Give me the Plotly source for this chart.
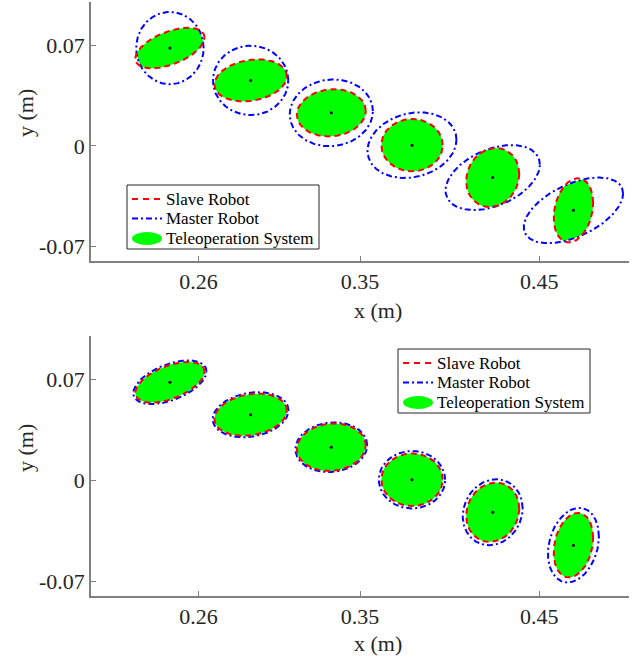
import numpy as np
import plotly.graph_objects as go

# ---------------- data ----------------
# ellipse centres (m)
cx = [0.244, 0.289, 0.334, 0.379, 0.424, 0.469]
cy = [0.068, 0.0455, 0.023, 0.0005, -0.022, -0.0448]

# slave robot ellipses: half-extent in x, half-extent in y, correlation (tilt)
slave_sx = [0.0193, 0.0202, 0.0192, 0.0171, 0.0148, 0.0110]
slave_sy = [0.0141, 0.0146, 0.0164, 0.0182, 0.0205, 0.0223]
slave_rho = [0.52, 0.20, 0.08, 0.0, 0.12, 0.23]

# master robot ellipses, upper panel
master_top_sx = [0.0188, 0.0210, 0.0232, 0.0248, 0.0263, 0.0277]
master_top_sy = [0.0251, 0.0241, 0.0232, 0.0228, 0.0226, 0.0228]
master_top_rho = [0.0, 0.0, 0.05, 0.17, 0.40, 0.51]

# master robot ellipses, lower panel
master_bot_sx = [0.0204, 0.0211, 0.0200, 0.0185, 0.0167, 0.0142]
master_bot_sy = [0.0151, 0.0156, 0.0172, 0.0199, 0.0228, 0.0258]
master_bot_rho = [0.50, 0.20, 0.08, 0.0, 0.12, 0.23]

x_tickvals = [0.26, 0.35, 0.45]
x_ticktext = ["0.26", "0.35", "0.45"]
y_tickvals = [-0.07, 0, 0.07]
y_ticktext = ["-0.07", "0", "0.07"]

names = ["Slave Robot", "Master Robot", "Teleoperation System"]

# ---------------- helpers ----------------
T = np.linspace(0, 2 * np.pi, 241)


def ellipse_pts(x0, y0, sx, sy, rho):
    x = x0 + sx * np.cos(T)
    y = y0 + sy * (rho * np.cos(T) + np.sqrt(1 - rho ** 2) * np.sin(T))
    return x, y


def qmat(sx, sy, rho):
    L = np.array([[sx, 0.0], [sy * rho, sy * np.sqrt(1 - rho ** 2)]])
    return np.linalg.inv(L @ L.T)


def intersection_pts(x0, y0, e1, e2):
    phi = np.linspace(0, 2 * np.pi, 361)
    u = np.vstack([np.cos(phi), np.sin(phi)])
    r = None
    for e in (e1, e2):
        Q = qmat(*e)
        ri = 1.0 / np.sqrt(np.einsum("in,ij,jn->n", u, Q, u))
        r = ri if r is None else np.minimum(r, ri)
    return x0 + r * u[0], y0 + r * u[1]


def joined(list_of_xy):
    xs, ys = [], []
    for x, y in list_of_xy:
        xs += list(x) + [None]
        ys += list(y) + [None]
    return xs, ys


FONT = "Liberation Serif, Times New Roman, serif"
TXT = "#262626"
RED, BLUE, GREEN = "#ff0000", "#0000ff", "#00ff00"
RED_DASH = "6px,4px"
BLUE_DASH = "6px,3px,2px,3px"

W, H = 644, 659


def px(x):
    return x / W


def py(y):
    return 1 - y / H


fig = go.Figure()

panels = [
    ("x", "y", master_top_sx, master_top_sy, master_top_rho),
    ("x2", "y2", master_bot_sx, master_bot_sy, master_bot_rho),
]

for xa, ya, msx, msy, mrho in panels:
    slave = [(slave_sx[i], slave_sy[i], slave_rho[i]) for i in range(len(cx))]
    master = [(msx[i], msy[i], mrho[i]) for i in range(len(cx))]

    gx, gy = joined([intersection_pts(cx[i], cy[i], slave[i], master[i]) for i in range(len(cx))])
    fig.add_trace(go.Scatter(x=gx, y=gy, mode="lines", fill="toself", fillcolor=GREEN,
                             name=names[2], line=dict(width=0, color=GREEN), showlegend=False,
                             hoverinfo="skip", xaxis=xa, yaxis=ya))

    bx, by = joined([ellipse_pts(cx[i], cy[i], *master[i]) for i in range(len(cx))])
    fig.add_trace(go.Scatter(x=bx, y=by, mode="lines", name=names[1], showlegend=False,
                             line=dict(color=BLUE, width=2, dash=BLUE_DASH),
                             xaxis=xa, yaxis=ya))

    rx, ry = joined([ellipse_pts(cx[i], cy[i], *slave[i]) for i in range(len(cx))])
    fig.add_trace(go.Scatter(x=rx, y=ry, mode="lines", name=names[0], showlegend=False,
                             line=dict(color=RED, width=2, dash=RED_DASH),
                             xaxis=xa, yaxis=ya))

    fig.add_trace(go.Scatter(x=cx, y=cy, mode="markers", marker=dict(color="black", size=3),
                             showlegend=False, xaxis=xa, yaxis=ya))

axis_common = dict(showline=True, linecolor="#808080", linewidth=1.5, ticks="inside", ticklen=5,
                   tickcolor="#808080", tickwidth=1, showgrid=False, zeroline=False,
                   automargin=False,
                   tickfont=dict(family=FONT, size=22, color=TXT), mirror=False)

xdom = [px(91), px(629)]
fig.update_layout(
    width=W, height=H, margin=dict(l=0, r=0, t=0, b=0, autoexpand=False),
    paper_bgcolor="white", plot_bgcolor="white", showlegend=False,
    hovermode=False,
    xaxis=dict(domain=xdom, range=[0.20, 0.50], tickvals=x_tickvals, ticktext=x_ticktext,
               anchor="y", **axis_common),
    yaxis=dict(domain=[py(261), py(2)], range=[-0.08, 0.10], tickvals=y_tickvals,
               ticktext=y_ticktext, anchor="x", **axis_common),
    xaxis2=dict(domain=xdom, range=[0.20, 0.50], tickvals=x_tickvals, ticktext=x_ticktext,
                anchor="y2", **axis_common),
    yaxis2=dict(domain=[py(596), py(336)], range=[-0.08, 0.10], tickvals=y_tickvals,
                ticktext=y_ticktext, anchor="x2", **axis_common),
)

# axis titles
ann_font = dict(family=FONT, size=22, color=TXT)
for xc, yc, txt, ang in [(378, 311, "x (m)", 0), (378, 643, "x (m)", 0),
                         (25, 113, "y (m)", -90), (25, 448, "y (m)", -90)]:
    fig.add_annotation(x=px(xc), y=py(yc), xref="paper", yref="paper", text=txt,
                       showarrow=False, textangle=ang, font=ann_font,
                       xanchor="center", yanchor="middle")

# legends (box, samples, labels)
for bx0, by0 in [(127, 185), (398, 349)]:
    bx1, by1 = bx0 + 192, by0 + 64
    fig.add_shape(type="rect", xref="paper", yref="paper", x0=px(bx0), x1=px(bx1),
                  y0=py(by1), y1=py(by0), fillcolor="white", line=dict(color=TXT, width=1))
    rows = [by0 + 14, by0 + 33.5, by0 + 53.5]
    sx0, sx1 = bx0 + 5, bx0 + 35
    fig.add_shape(type="line", xref="paper", yref="paper", x0=px(sx0), x1=px(sx1),
                  y0=py(rows[0]), y1=py(rows[0]), line=dict(color=RED, width=2, dash="6px,5px"))
    fig.add_shape(type="line", xref="paper", yref="paper", x0=px(sx0), x1=px(sx1),
                  y0=py(rows[1]), y1=py(rows[1]), line=dict(color=BLUE, width=2, dash=BLUE_DASH))
    fig.add_shape(type="circle", xref="paper", yref="paper", x0=px(sx0), x1=px(sx1),
                  y0=py(rows[2] + 6.5), y1=py(rows[2] - 6.5), fillcolor=GREEN,
                  line=dict(width=0, color=GREEN))
    for r, name in zip(rows, names):
        fig.add_annotation(x=px(bx0 + 37), y=py(r), xref="paper", yref="paper", text=name,
                           showarrow=False, xanchor="left", yanchor="middle",
                           font=dict(family=FONT, size=17, color="black"))

fig.write_html("out.html", config={"displayModeBar": False},
               post_script="document.body.style.margin='0';")
